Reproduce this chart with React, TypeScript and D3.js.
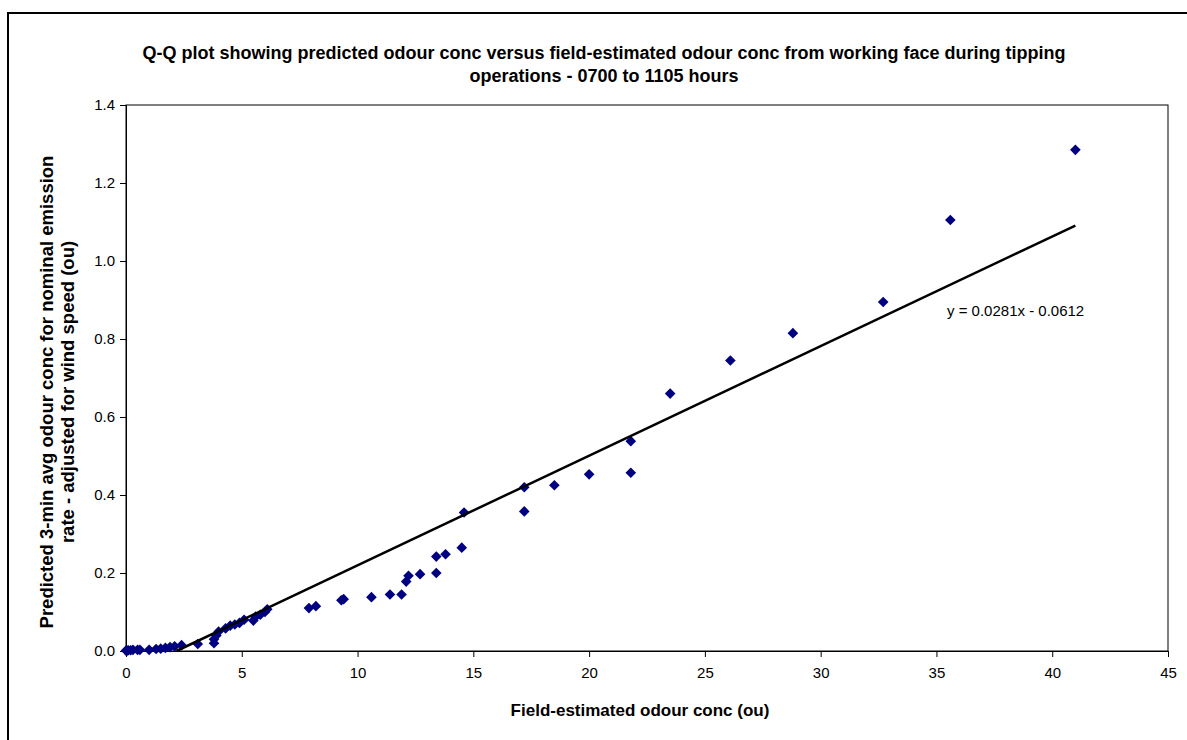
import React, { useEffect, useRef } from "react";
import * as d3 from "d3";

// field-estimated conc (ou) vs predicted conc (ou)
const fieldConc = [
  0, 0.05, 0.1, 0.2, 0.3, 0.5, 0.6, 1.0, 1.3, 1.5, 1.7, 1.9, 2.1, 2.4, 3.1,
  3.8, 3.8, 3.9, 4.0, 4.3, 4.5, 4.7, 4.9, 5.1, 5.5, 5.6, 5.8, 6.0, 6.1, 7.9,
  8.2, 9.3, 9.4, 10.6, 11.4, 11.9, 12.1, 12.2, 12.7, 13.4, 13.4, 13.8, 14.5,
  14.6, 17.2, 17.2, 18.5, 20.0, 21.8, 21.8, 23.5, 26.1, 28.8, 32.7, 35.6, 41.0,
];
const predictedConc = [
  0.001, 0.001, 0.002, 0.002, 0.003, 0.003, 0.003, 0.003, 0.005, 0.006, 0.008,
  0.01, 0.012, 0.015, 0.018, 0.02, 0.03, 0.04, 0.05, 0.058, 0.065, 0.068, 0.072,
  0.08, 0.078, 0.088, 0.093, 0.1, 0.107, 0.11, 0.115, 0.13, 0.133, 0.138, 0.145,
  0.145, 0.178, 0.193, 0.197, 0.2, 0.242, 0.248, 0.265, 0.355, 0.358, 0.42,
  0.425, 0.453, 0.457, 0.538, 0.66, 0.745, 0.815, 0.895, 1.105, 1.285,
];
const xTicks = [0, 5, 10, 15, 20, 25, 30, 35, 40, 45];
const yTicks = [0, 0.2, 0.4, 0.6, 0.8, 1.0, 1.2, 1.4];
const trendSlope = 0.0281;
const trendIntercept = -0.0612;
const titleLines = [
  "Q-Q plot showing predicted odour conc versus field-estimated odour conc from working face during tipping",
  "operations - 0700 to 1105 hours",
];
const yTitleLines = [
  "Predicted 3-min avg odour conc for nominal emission",
  "rate - adjusted for wind speed (ou)",
];

const W = 1187;
const H = 740;
const font = "Arial, 'Liberation Sans', sans-serif";

const App = () => {
  const ref = useRef<SVGSVGElement | null>(null);

  useEffect(() => {
    const svg = d3.select(ref.current);
    svg.selectAll("*").remove();

    const left = 126, right = 1168, top = 105, bottom = 651;
    const x = d3.scaleLinear().domain([0, 45]).range([left, right]);
    const y = d3.scaleLinear().domain([0, 1.4]).range([bottom, top]);

    // outer chart frame (runs off the page on right/bottom)
    svg.append("path")
      .attr("d", `M8,${H + 5}V13H${W + 5}`)
      .attr("fill", "none")
      .attr("stroke", "#000")
      .attr("stroke-width", 2);

    // plot area border
    svg.append("rect")
      .attr("x", left).attr("y", top)
      .attr("width", right - left).attr("height", bottom - top)
      .attr("fill", "none").attr("stroke", "#000").attr("stroke-width", 1);

    // title
    svg.append("text")
      .attr("x", 604).attr("y", 59)
      .attr("text-anchor", "middle")
      .attr("font-family", font).attr("font-size", 18).attr("font-weight", "bold")
      .selectAll("tspan")
      .data(titleLines)
      .enter()
      .append("tspan")
      .attr("x", 604)
      .attr("dy", (_, i) => (i === 0 ? 0 : 23))
      .text((d) => d);

    // y axis
    const yAxis = svg.append("g")
      .attr("transform", `translate(${left},0)`)
      .call(d3.axisLeft(y).tickValues(yTicks).tickFormat(d3.format(".1f")).tickSize(6).tickPadding(5));
    yAxis.select(".domain").attr("stroke", "#000");
    yAxis.selectAll("text").attr("font-family", font).attr("font-size", 15).attr("fill", "#000");

    // x axis
    const xAxis = svg.append("g")
      .attr("transform", `translate(0,${bottom})`)
      .call(d3.axisBottom(x).tickValues(xTicks).tickFormat(d3.format("d")).tickSize(6).tickPadding(10));
    xAxis.select(".domain").attr("stroke", "#000");
    xAxis.selectAll("text").attr("font-family", font).attr("font-size", 15).attr("fill", "#000");

    // axis titles
    svg.append("text")
      .attr("x", 640).attr("y", 716)
      .attr("text-anchor", "middle")
      .attr("font-family", font).attr("font-size", 17).attr("font-weight", "bold")
      .text("Field-estimated odour conc (ou)");

    svg.append("text")
      .attr("transform", `translate(53,392) rotate(-90)`)
      .attr("text-anchor", "middle")
      .attr("font-family", font).attr("font-size", 18.5).attr("font-weight", "bold")
      .selectAll("tspan")
      .data(yTitleLines)
      .enter()
      .append("tspan")
      .attr("x", 0)
      .attr("dy", (_, i) => (i === 0 ? 0 : 21))
      .text((d) => d);

    // points
    const pts = fieldConc.map((v, i) => [v, predictedConc[i]]);
    const diamond = d3.symbol().type(d3.symbolDiamond2).size(72);
    svg.append("g")
      .selectAll("path")
      .data(pts)
      .enter()
      .append("path")
      .attr("d", diamond)
      .attr("transform", (d) => `translate(${x(d[0])},${y(d[1])})`)
      .attr("fill", "#000080");

    // linear trendline, clipped at y = 0
    const xMax = d3.max(fieldConc) as number;
    const x0 = -trendIntercept / trendSlope;
    svg.append("line")
      .attr("x1", x(x0)).attr("y1", y(0))
      .attr("x2", x(xMax)).attr("y2", y(trendSlope * xMax + trendIntercept))
      .attr("stroke", "#000").attr("stroke-width", 2.5);

    svg.append("text")
      .attr("x", 947).attr("y", 316)
      .attr("font-family", font).attr("font-size", 15)
      .text(`y = ${trendSlope}x - ${Math.abs(trendIntercept)}`);
  }, []);

  return (
    <svg
      ref={ref}
      width={W}
      height={H}
      style={{ position: "absolute", left: 0, top: 0, background: "#fff" }}
    />
  );
};

export default App;
